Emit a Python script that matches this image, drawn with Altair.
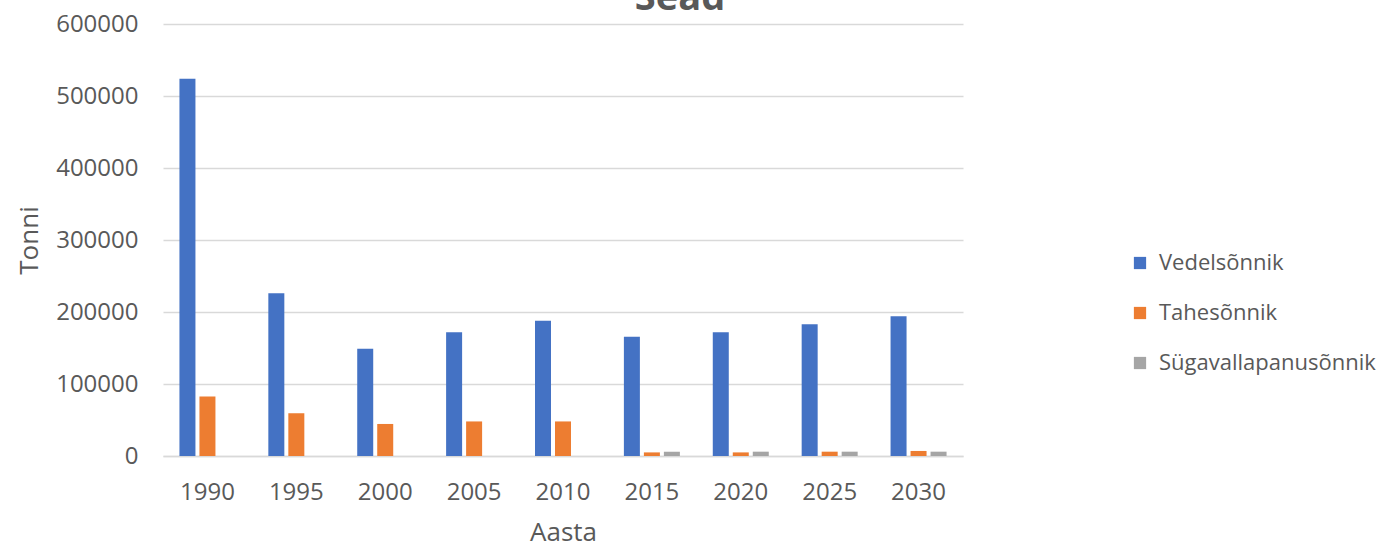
import altair as alt
import pandas as pd

# Manure amounts for pigs (tonnes) by year and manure type
years = ["1990", "1995", "2000", "2005", "2010", "2015", "2020", "2025", "2030"]
series = ["Vedelsõnnik", "Tahesõnnik", "Sügavallapanusõnnik"]
vedel = [524000, 226000, 149000, 172000, 188000, 165500, 172000, 183000, 194000]
tahe = [82500, 59500, 44500, 48000, 48000, 5000, 5000, 6000, 7000]
sugav = [0, 0, 0, 0, 0, 6000, 6000, 6000, 6000]
colors = ["#4472C4", "#ED7D31", "#A5A5A5"]
title_text = ["Sead"]

rows = []
for name, vals in zip(series, [vedel, tahe, sugav]):
    for y, v in zip(years, vals):
        rows.append({"Aasta": y, "Tüüp": name, "Tonni": v})
df = pd.DataFrame(rows)

FONT = "Open Sans"
TXT = "#595959"
GRID = "#D9D9D9"

bars = alt.Chart(df).mark_bar().encode(
    x=alt.X("Aasta:N", sort=years,
            scale=alt.Scale(paddingInner=0.325, paddingOuter=0.1625),
            axis=alt.Axis(title="Aasta", labelAngle=0, ticks=False,
                          domainColor=GRID, domainWidth=1.3,
                          labelPadding=24, titlePadding=15)),
    xOffset=alt.XOffset("Tüüp:N", sort=series,
                        scale=alt.Scale(paddingInner=0.2, paddingOuter=0.1)),
    y=alt.Y("Tonni:Q", scale=alt.Scale(domain=[0, 600000]),
            axis=alt.Axis(title="Tonni", values=[0, 100000, 200000, 300000, 400000, 500000, 600000],
                          format="d", ticks=False, domain=False, gridColor=GRID,
                          gridWidth=1.3, labelPadding=25, titlePadding=13)),
    color=alt.Color("Tüüp:N", sort=series,
                    scale=alt.Scale(domain=series, range=colors),
                    legend=alt.Legend(title=None, orient="none", legendX=966, legendY=228,
                                      padding=0, symbolType="square", symbolSize=150,
                                      symbolStrokeWidth=0, labelFontSize=22,
                                      labelColor=TXT, labelFont=FONT, labelLimit=0,
                                      labelOffset=8, rowPadding=28)),
)

title = alt.Chart(pd.DataFrame({"t": title_text})).mark_text(
    font=FONT, fontSize=38, fontWeight="bold", color=TXT,
    align="center", baseline="alphabetic",
).encode(text="t:N", x=alt.value(517), y=alt.value(-14))

chart = alt.layer(bars, title).properties(
    width=800, height=432,
    background="white",
    autosize=alt.AutoSizeParams(type="none"),
    padding={"left": 163, "top": 24, "right": 433, "bottom": 92},
).configure_view(stroke=None).configure_axis(
    labelFont=FONT, titleFont=FONT, labelFontSize=24, titleFontSize=26,
    labelColor=TXT, titleColor=TXT, titleFontWeight="normal",
)

chart.save("out.html", embed_options={"renderer": "svg", "actions": False})
